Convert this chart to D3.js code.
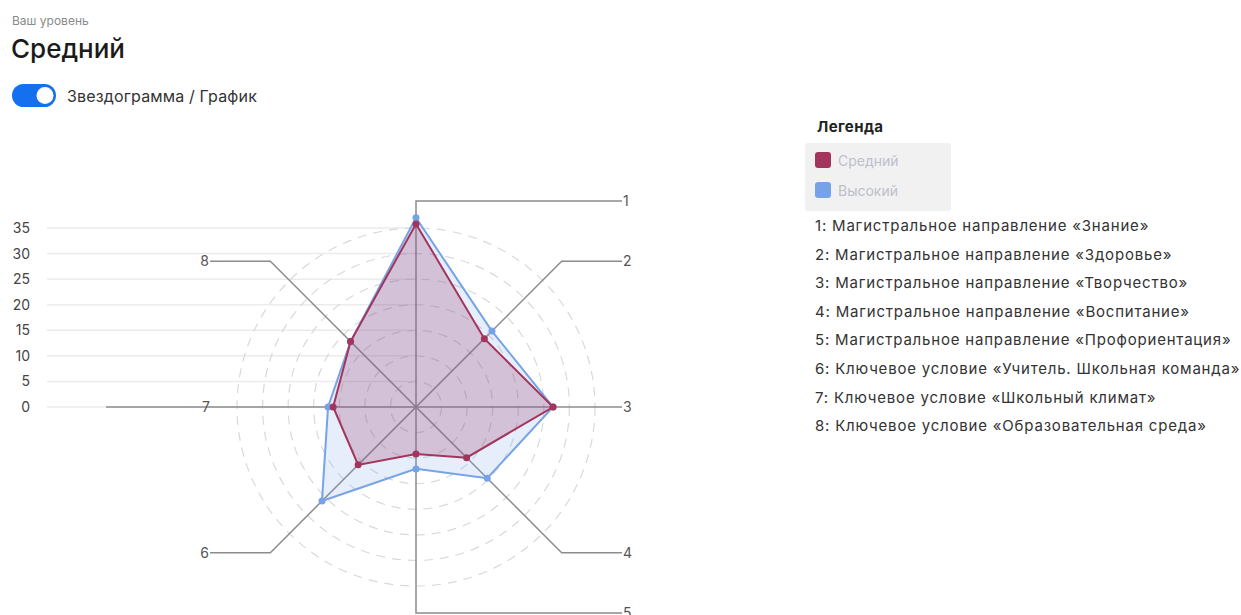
<!DOCTYPE html>
<meta charset="utf-8">
<style>
  body { margin: 0; background: #fff; font-family: Inter, "Noto Sans", sans-serif; }
  svg text { font-family: Inter, "Noto Sans", sans-serif; }
</style>
<body>
<div id="chart"></div>
<script src="https://d3js.org/d3.v7.min.js"></script>
<script>
// axis numbers and their names (legend)
const axisLabels = ["1", "2", "3", "4", "5", "6", "7", "8"];
const axisNames = [
  "Магистральное направление «Знание»",
  "Магистральное направление «Здоровье»",
  "Магистральное направление «Творчество»",
  "Магистральное направление «Воспитание»",
  "Магистральное направление «Профориентация»",
  "Ключевое условие «Учитель. Школьная команда»",
  "Ключевое условие «Школьный климат»",
  "Ключевое условие «Образовательная среда»"
];
const seriesNames = ["Средний", "Высокий"];
const sredValues = [35.8, 18.9, 26.8, 14, 9.2, 16, 16.2, 18.1];
const vysValues = [37, 21, 26.8, 19.7, 12.1, 26, 17.2, 18.1];
const yTicks = [0, 5, 10, 15, 20, 25, 30, 35];

const width = 1241, height = 615;
const cx = 416, cy = 407;
const maroon = "#a3345c", blue = "#76a3e8";

const svg = d3.select("#chart").append("svg")
  .attr("width", width).attr("height", height);

// header
svg.append("text").attr("x", 12).attr("y", 25)
  .attr("font-size", 12).attr("fill", "#8a8a8a").text("Ваш уровень");
svg.append("text").attr("x", 11).attr("y", 58)
  .attr("font-size", 26).attr("font-weight", 500).attr("fill", "#1b1b1b").text("Средний");

// toggle
svg.append("rect").attr("x", 12).attr("y", 84).attr("width", 44).attr("height", 23)
  .attr("rx", 11.5).attr("fill", "#1570ef");
svg.append("circle").attr("cx", 45).attr("cy", 95.5).attr("r", 8.5).attr("fill", "#fff");
svg.append("text").attr("x", 67).attr("y", 102)
  .attr("font-size", 16).attr("letter-spacing", 0.15).attr("fill", "#333").text("Звездограмма / График");

// scales
const r = d3.scaleLinear().domain([0, 35]).range([0, 179]);
const y = d3.scaleLinear().domain([0, 35]).range([cy, cy - 179]);
const angle = i => -Math.PI / 2 + i * 2 * Math.PI / axisLabels.length;

// left value axis with gridlines
const grid = svg.append("g");
grid.selectAll("line").data(yTicks).join("line")
  .attr("x1", 47).attr("x2", cx)
  .attr("y1", d => y(d)).attr("y2", d => y(d))
  .attr("stroke", "#ebebeb").attr("stroke-width", 1.5);
grid.selectAll("text").data(yTicks).join("text")
  .attr("x", 30).attr("y", d => y(d) + 5)
  .attr("text-anchor", "end").attr("font-size", 14).attr("fill", "#444")
  .text(d => d);

// dashed rings
svg.append("g").selectAll("circle").data(yTicks.slice(1)).join("circle")
  .attr("cx", cx).attr("cy", cy).attr("r", d => r(d))
  .attr("fill", "none").attr("stroke", "#d9d9d9").attr("stroke-width", 1.2)
  .attr("stroke-dasharray", "9,7");

// axis lines with leader elbows
const reach = 206;
const leaders = axisLabels.map((lab, i) => {
  const a = angle(i);
  const ex = cx + reach * Math.cos(a), ey = cy + reach * Math.sin(a);
  const right = Math.cos(a) > 0.01 || i === 0 || i === 4;
  let hx = right ? cx + reach : cx - reach;
  let tx = right ? hx + 1 : hx - 1;
  if (i === 6) { hx = 106; tx = 210; }
  return {lab, pts: [[cx, cy], [ex, ey], [hx, ey]], tx, ty: ey, right};
});
const axes = svg.append("g");
axes.selectAll("path").data(leaders).join("path")
  .attr("d", d => d3.line()(d.pts))
  .attr("fill", "none").attr("stroke", "#8c8c8c").attr("stroke-width", 1.5);
axes.selectAll("text").data(leaders).join("text")
  .attr("x", d => d.tx).attr("y", d => d.ty + 5)
  .attr("text-anchor", d => d.right ? "start" : "end")
  .attr("font-size", 14).attr("fill", "#555").text(d => d.lab);

// radar polygons
const series = [
  {name: seriesNames[1], values: vysValues, color: blue, fill: "rgba(122,167,232,0.19)"},
  {name: seriesNames[0], values: sredValues, color: maroon, fill: "rgba(150,45,95,0.23)"}
];
const radial = d3.lineRadial().angle((d, i) => i * 2 * Math.PI / axisLabels.length)
  .radius(d => r(d)).curve(d3.curveLinearClosed);
series.forEach(s => {
  const g = svg.append("g").attr("transform", `translate(${cx},${cy})`);
  g.append("path").attr("d", radial(s.values))
    .attr("fill", s.fill).attr("stroke", s.color).attr("stroke-width", 2);
  g.selectAll("circle").data(s.values).join("circle")
    .attr("cx", (d, i) => r(d) * Math.cos(angle(i)))
    .attr("cy", (d, i) => r(d) * Math.sin(angle(i)))
    .attr("r", 3.5).attr("fill", s.color);
});

// legend
const lg = svg.append("g");
lg.append("text").attr("x", 817).attr("y", 132)
  .attr("font-size", 15).attr("font-weight", 700).attr("letter-spacing", 0.4)
  .attr("fill", "#222").text("Легенда");
lg.append("rect").attr("x", 805).attr("y", 143).attr("width", 146).attr("height", 68)
  .attr("rx", 3).attr("fill", "#f1f1f1");
[{n: seriesNames[0], c: maroon}, {n: seriesNames[1], c: blue}].forEach((d, i) => {
  lg.append("rect").attr("x", 815).attr("y", 152 + i * 30).attr("width", 16).attr("height", 16)
    .attr("rx", 3).attr("fill", d.c);
  lg.append("text").attr("x", 838).attr("y", 166 + i * 30)
    .attr("font-size", 14).attr("fill", "#bcbfcc").text(d.n);
});
lg.selectAll("text.item").data(axisNames).join("text").attr("class", "item")
  .attr("x", 815).attr("y", (d, i) => 231 + i * 28.6)
  .attr("font-size", 15).attr("letter-spacing", 0.8).attr("fill", "#333")
  .text((d, i) => axisLabels[i] + ": " + d);
</script>
</body>
